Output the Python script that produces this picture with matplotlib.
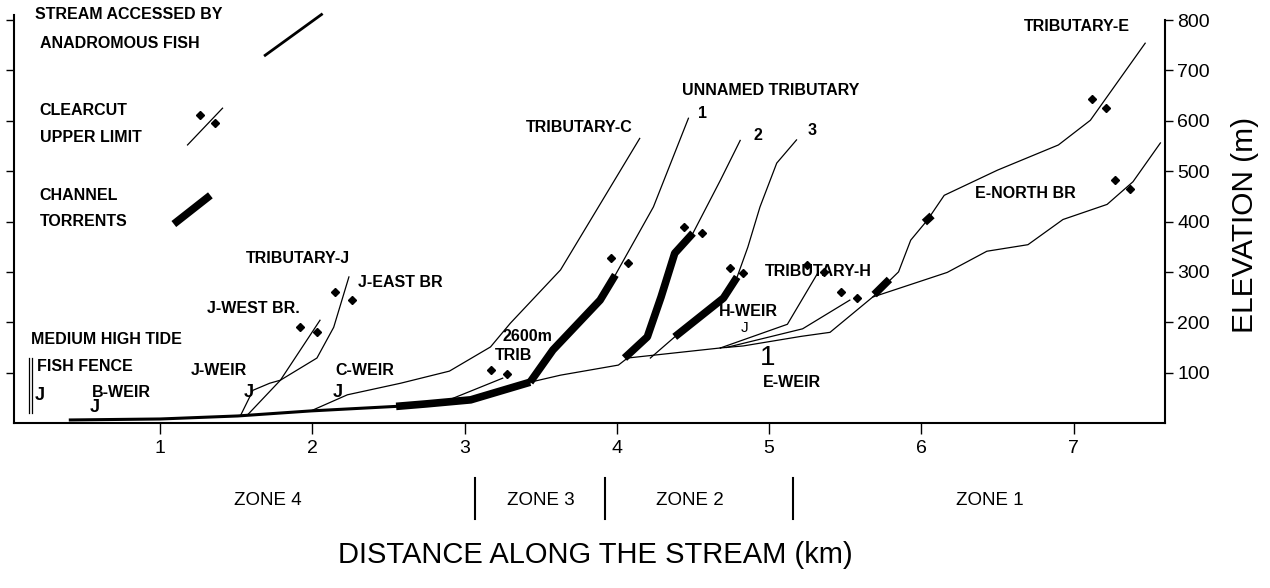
import numpy as np
import matplotlib
matplotlib.use('Agg')
import matplotlib.pyplot as plt

plt.rcParams['font.family'] = ['Liberation Sans', 'DejaVu Sans']

# main stem (km, m)
main_km = [0.40, 1.00, 1.51, 1.99, 2.55, 2.77, 3.04, 3.43]
main_elev = [6, 8, 14, 24, 33, 40, 46, 81]
upper_km = [3.43, 3.63, 4.01, 4.07, 4.68]
upper_elev = [81, 95, 115, 129, 149]

# tributaries (thin lines)
trib_c_km = [1.99, 2.23, 2.58, 2.90, 3.17, 3.30, 3.63, 4.15]
trib_c_elev = [24, 56, 79, 103, 151, 198, 304, 565]
trib_2600_km = [2.89, 3.25]
trib_2600_elev = [45, 89]
un1_km = [3.99, 4.24, 4.47]
un1_elev = [294, 429, 605]
un2_km = [4.50, 4.68, 4.81]
un2_elev = [377, 482, 561]
un3_low_km = [4.22, 4.38]
un3_low_elev = [129, 171]
un3_km = [4.79, 4.86, 4.94, 5.05, 5.18]
un3_elev = [290, 349, 429, 516, 562]
trib_h_km = [4.68, 5.12, 5.32]
trib_h_elev = [149, 196, 298]
mid_km = [4.72, 5.22, 5.53]
mid_elev = [150, 187, 244]
trib_e_km = [4.68, 4.83, 5.21, 5.40, 5.68, 5.85, 5.93, 6.04, 6.15, 6.50, 6.90, 7.11, 7.47]
trib_e_elev = [149, 153, 172, 180, 250, 300, 363, 403, 452, 502, 552, 601, 754]
e_north_km = [5.68, 6.17, 6.43, 6.70, 6.93, 7.22, 7.39, 7.57]
e_north_elev = [250, 299, 341, 354, 404, 434, 479, 556]
j_east_km = [1.53, 1.61, 1.72, 1.79, 2.03, 2.14, 2.24]
j_east_elev = [16, 65, 79, 85, 129, 190, 290]
j_west_km = [1.58, 1.79, 2.05]
j_west_elev = [18, 85, 204]

# channel torrents (thick)
torrents = [
    ([2.55, 2.75, 3.04, 3.43], [33, 38, 46, 81]),
    ([3.43, 3.58, 3.89, 3.99], [81, 145, 244, 294]),
    ([4.05, 4.20, 4.29, 4.38, 4.50], [129, 171, 250, 337, 377]),
    ([4.38, 4.70, 4.79], [171, 248, 290]),
    ([5.69, 5.79], [255, 285]),
    ([6.02, 6.07], [398, 412]),
]

# clearcut upper limit marks
cc_km = [1.92, 2.03, 2.15, 2.26, 3.17, 3.28, 3.96, 4.07, 4.44, 4.56,
         4.74, 4.83, 5.25, 5.36, 5.47, 5.58, 7.12, 7.21, 7.27, 7.37]
cc_elev = [190, 180, 260, 244, 105, 97, 327, 317, 389, 377,
           308, 298, 313, 300, 260, 248, 643, 625, 482, 464]

# labels: text, km, elev
labels = [
    ('STREAM ACCESSED BY', 0.18, 810), ('ANADROMOUS FISH', 0.21, 754),
    ('CLEARCUT', 0.21, 621), ('UPPER LIMIT', 0.21, 567),
    ('CHANNEL', 0.21, 452), ('TORRENTS', 0.21, 401),
    ('TRIBUTARY-J', 1.56, 327), ('J-EAST BR', 2.30, 278),
    ('J-WEST BR.', 1.31, 228), ('MEDIUM HIGH TIDE', 0.15, 165),
    ('FISH FENCE', 0.19, 113), ('B-WEIR', 0.55, 60),
    ('J-WEIR', 1.20, 105), ('C-WEIR', 2.15, 105),
    ('2600m', 3.25, 171), ('TRIB', 3.20, 135),
    ('TRIBUTARY-C', 3.40, 587), ('UNNAMED TRIBUTARY', 4.43, 661),
    ('1', 4.53, 615), ('2', 4.90, 571), ('3', 5.25, 581),
    ('TRIBUTARY-H', 4.97, 300), ('H-WEIR', 4.67, 222),
    ('E-WEIR', 4.96, 81), ('E-NORTH BR', 6.35, 456),
    ('TRIBUTARY-E', 6.67, 788),
]
# weir pointers
weir_km = [0.21, 0.57, 1.58, 2.17]
weir_elev = [55, 30, 61, 61]

zone_names = ['ZONE 4', 'ZONE 3', 'ZONE 2', 'ZONE 1']
zone_centers = [1.71, 3.50, 4.48, 6.45]
zone_breaks = [3.07, 3.92, 5.16]

fig = plt.figure(figsize=(12.7, 5.88), dpi=100)
ax = fig.add_axes([0.011, 0.2806, 0.9063, 0.6939])

thin = dict(color='black', lw=0.9)
ax.plot(main_km, main_elev, color='black', lw=2.2, solid_capstyle='butt')
ax.plot(upper_km, upper_elev, **thin)
for xs, ys in [(trib_c_km, trib_c_elev), (trib_2600_km, trib_2600_elev),
               (un1_km, un1_elev), (un2_km, un2_elev), (un3_low_km, un3_low_elev),
               (un3_km, un3_elev), (trib_h_km, trib_h_elev), (mid_km, mid_elev),
               (trib_e_km, trib_e_elev), (e_north_km, e_north_elev),
               (j_east_km, j_east_elev), (j_west_km, j_west_elev)]:
    ax.plot(xs, ys, **thin)
for xs, ys in torrents:
    ax.plot(xs, ys, color='black', lw=5.5, solid_capstyle='butt')
ax.plot(cc_km, cc_elev, ls='none', marker='D', ms=4, color='black')

# legend drawn by hand
ax.plot([1.69, 2.06], [730, 811], color='black', lw=2, clip_on=False)
ax.plot([1.18, 1.41], [552, 625], **thin)
ax.plot([1.26, 1.36], [611, 595], ls='none', marker='D', ms=4, color='black')
ax.plot([1.09, 1.33], [395, 452], color='black', lw=5.5, solid_capstyle='butt')

# fish fence lines
ax.plot([0.14, 0.14], [20, 130], **thin)
ax.plot([0.16, 0.16], [20, 130], **thin)

for t, x, y in labels:
    ax.text(x, y, t, fontsize=11.5, fontweight='bold', va='center', ha='left')
for x, y in zip(weir_km, weir_elev):
    ax.text(x, y, 'J', fontsize=13, va='center', ha='center', fontweight='bold')
ax.text(4.84, 188, 'J', fontsize=11, va='center', ha='center')
ax.text(4.99, 129, '1', fontsize=20, va='center', ha='center', fontweight='light')

ax.set_xlim(0.04, 7.6)
ax.set_ylim(0, 810)
ax.set_xticks(range(1, 8))
ax.set_yticks(range(100, 900, 100))
ax.spines['top'].set_visible(False)
ax.spines['right'].set_bounds(0, 800)
for s in ['left', 'right', 'bottom']:
    ax.spines[s].set_linewidth(1.5)
ax.tick_params(axis='x', direction='out', length=8, width=1, labelsize=14, pad=4)
ax.tick_params(axis='y', direction='out', length=6, width=1, labelsize=14,
               left=True, right=True, labelleft=False, labelright=True, pad=3)

tr = ax.get_xaxis_transform()
for name, c in zip(zone_names, zone_centers):
    ax.text(c, -0.189, name, transform=tr, fontsize=13.5, ha='center', va='center')
for b in zone_breaks:
    ax.plot([b, b], [-0.135, -0.235], transform=tr, color='black', lw=1.5, clip_on=False)
ax.text(3.86, -0.324, 'DISTANCE ALONG THE STREAM (km)', transform=tr,
        fontsize=21, ha='center', va='center')
fig.text(0.980, 0.617, 'ELEVATION (m)', rotation=90, fontsize=21.5,
         ha='center', va='center')

fig.savefig('out.png', dpi=100)
